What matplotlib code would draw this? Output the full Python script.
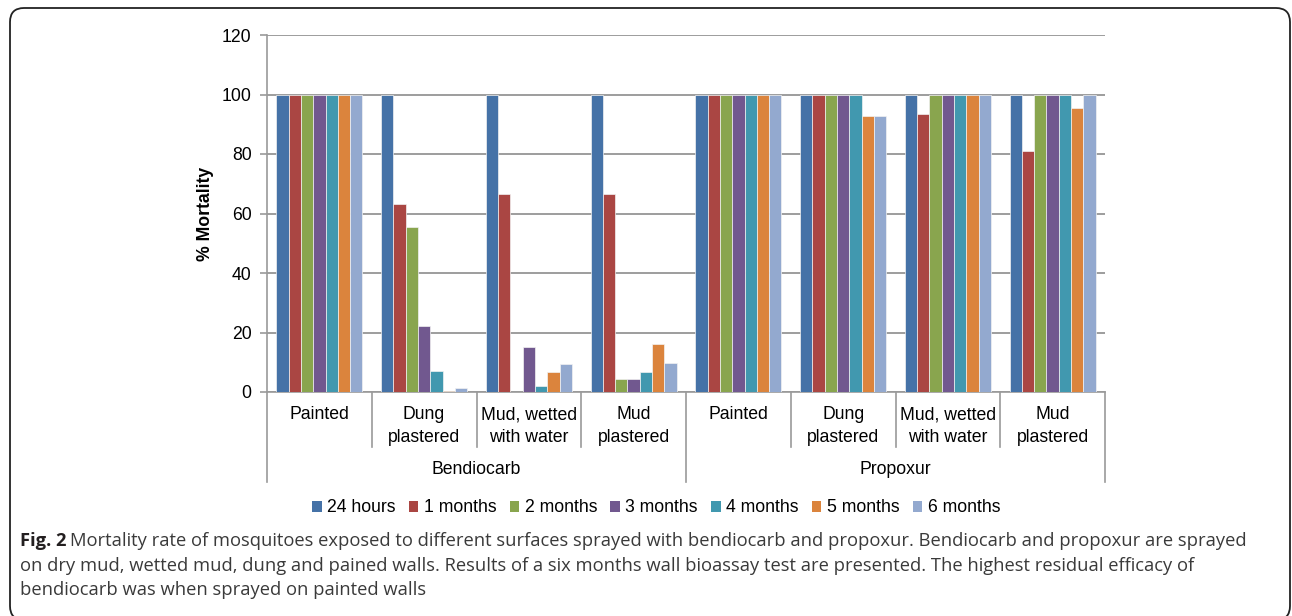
import matplotlib
matplotlib.use("Agg")
import matplotlib.pyplot as plt
import matplotlib.transforms as mtransforms
from matplotlib.patches import FancyBboxPatch, Rectangle
from matplotlib.lines import Line2D
import numpy as np

# ---------------- data ----------------
groups = ["Bendiocarb", "Propoxur"]
surfaces = ["Painted", "Dung\nplastered", "Mud, wetted\nwith water", "Mud\nplastered"]
series_labels = ["24 hours", "1 months", "2 months", "3 months", "4 months", "5 months", "6 months"]
# values per series across the 8 categories (Bendiocarb x4, Propoxur x4)
h24 = [100, 100, 100, 100, 100, 100, 100, 100]
m1 = [100, 63.3, 66.6, 66.6, 100, 100, 93.3, 80.9]
m2 = [100, 55.6, 0, 4.3, 100, 100, 100, 100]
m3 = [100, 22.1, 15.1, 4.3, 100, 100, 100, 100]
m4 = [100, 7.0, 2.0, 6.6, 100, 100, 100, 100]
m5 = [100, 0.3, 6.6, 16.2, 100, 92.8, 100, 95.3]
m6 = [100, 1.2, 9.3, 9.6, 100, 92.8, 100, 100]
yticks = [0, 20, 40, 60, 80, 100, 120]
caption_lines = [
    "Mortality rate of mosquitoes exposed to different surfaces sprayed with bendiocarb and propoxur. Bendiocarb and propoxur are sprayed",
    "on dry mud, wetted mud, dung and pained walls. Results of a six months wall bioassay test are presented. The highest residual efficacy of",
    "bendiocarb was when sprayed on painted walls",
]

series = [h24, m1, m2, m3, m4, m5, m6]
colors = ["#4572A7", "#AA4643", "#89A54E", "#71588F", "#4198AF", "#DB843D", "#93A9CF"]

W, H = 1292, 616
fig = plt.figure(figsize=(W / 100, H / 100), dpi=100)
FONT = "Liberation Sans"
FS = 12.7

def fx(px):
    return px / W

def fy(py):
    return 1 - py / H

# frame
frame = FancyBboxPatch((10, -4), 1280, H - 8 + 4, boxstyle="round,pad=0,rounding_size=14",
                       transform=mtransforms.IdentityTransform(), facecolor="none",
                       edgecolor="#222222", linewidth=1.3)
fig.patches.append(frame)

ax_l, ax_r, ax_t, ax_b = 267, 1105, 35, 392
ax = fig.add_axes([fx(ax_l), fy(ax_b), fx(ax_r - ax_l), (ax_b - ax_t) / H])

ncat = len(h24)
x = np.arange(ncat)
bw = 0.1175
for i, (vals, c, lab) in enumerate(zip(series, colors, series_labels)):
    ax.bar(x + (i - 3) * bw, vals, width=bw, color=c, edgecolor="#f2f2f2",
           linewidth=0.5, label=lab, zorder=3)

ax.set_xlim(-0.5, ncat - 0.5)
ax.set_ylim(0, 120)
ax.set_yticks(yticks)
ax.set_yticklabels([str(v) for v in yticks], fontsize=FS, family=FONT)
ax.yaxis.grid(True, color="#8c8c8c", linewidth=1.2, zorder=0)
ax.set_axisbelow(True)
for s in ["top", "right"]:
    ax.spines[s].set_visible(False)
ax.spines["left"].set_color("#9a9a9a")
ax.spines["left"].set_linewidth(1.2)
ax.spines["bottom"].set_color("#9a9a9a")
ax.spines["bottom"].set_linewidth(1.2)
ax.tick_params(axis="y", length=5, color="#9a9a9a", width=1.2, pad=6)
ax.set_xticks([])
ax.set_ylabel("% Mortality", fontsize=FS, fontweight="bold", family=FONT, labelpad=6)

# multi-level category axis
tr = mtransforms.blended_transform_factory(ax.transData, fig.transFigure)
for k in range(ncat + 1):
    xb = k - 0.5
    bottom = 482 if k % 4 == 0 else 447
    ax.add_line(Line2D([xb, xb], [fy(392), fy(bottom)], transform=tr, color="#9a9a9a",
                       linewidth=1.2, clip_on=False))
for k in range(ncat):
    lab = surfaces[k % 4]
    ax.text(k, fy(406), lab, transform=tr, ha="center", va="top", fontsize=FS,
            family=FONT, linespacing=1.5)
for g, name in enumerate(groups):
    ax.text(g * 4 + 1.5, fy(469), name, transform=tr, ha="center", va="center",
            fontsize=FS, family=FONT)

# legend
handles = [Rectangle((0, 0), 1, 1, facecolor=c, edgecolor="none") for c in colors]
leg = fig.legend(handles, series_labels, loc="center", bbox_to_anchor=(fx(656), fy(508)),
                 ncol=7, frameon=False, handlelength=0.55, handleheight=0.55,
                 handletextpad=0.3, columnspacing=0.75,
                 prop={"family": FONT, "size": FS})

# caption
cap_font = "Open Sans"
cap_color = "#3a3a3a"
fig.canvas.draw()
r = fig.canvas.get_renderer()
x0 = 20
ys = [541, 566, 590]

def draw_caption(size):
    tb = fig.text(fx(x0), fy(ys[0]), "Fig. 2", fontsize=size, fontweight="bold",
                  family=cap_font, color="#231f20", va="center", ha="left")
    bb = tb.get_window_extent(r)
    t1 = fig.text(fx(bb.x1 + size * 0.3), fy(ys[0]), caption_lines[0], fontsize=size,
                  family=cap_font, color=cap_color, va="center", ha="left")
    t2 = fig.text(fx(x0), fy(ys[1]), caption_lines[1], fontsize=size,
                  family=cap_font, color=cap_color, va="center", ha="left")
    t3 = fig.text(fx(x0), fy(ys[2]), caption_lines[2], fontsize=size,
                  family=cap_font, color=cap_color, va="center", ha="left")
    return [tb, t1, t2, t3]

size = 12.0
for _ in range(3):
    arts = draw_caption(size)
    right = arts[1].get_window_extent(r).x1
    for a in arts:
        a.remove()
    size *= (1247 - x0) / (right - x0)
draw_caption(size)

fig.savefig("out.png", dpi=100)
